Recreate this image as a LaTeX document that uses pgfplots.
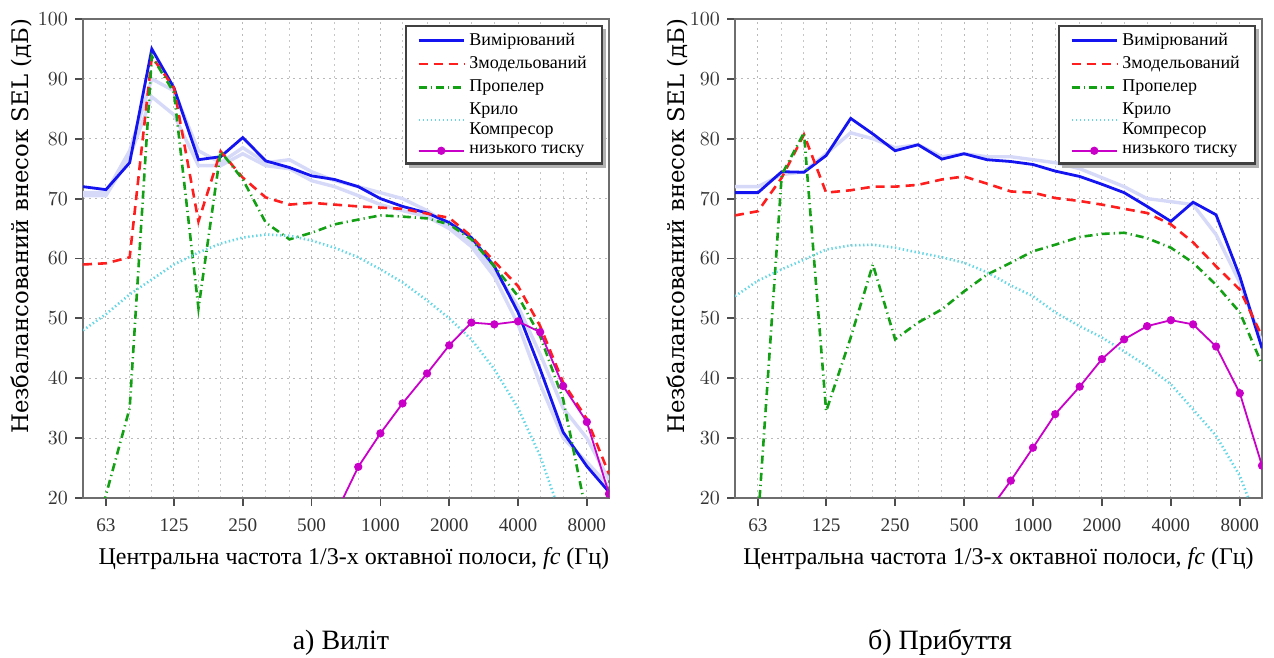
\documentclass[border=0pt]{standalone}
\usepackage{fontspec}
\setmainfont{Liberation Serif}
\newfontfamily\slabf{DejaVu Serif}
\usepackage{pgfplots}
\usepackage{pgfplotstable}
\pgfplotsset{compat=1.18}

\definecolor{cblue}{RGB}{20,20,240}
\definecolor{cred}{RGB}{255,30,30}
\definecolor{cgreen}{RGB}{20,160,20}
\definecolor{ccyan}{RGB}{100,215,230}
\definecolor{cmag}{RGB}{200,0,200}
\definecolor{cfaint}{RGB}{214,217,248}
\definecolor{axgray}{RGB}{110,110,110}

\pgfplotstableread{
f meas model prop wing comp fa fb
50 72 59 5 48 nan 70.5 71
63 71.5 59.2 20.5 50.7 nan 70.5 71
80 76 60.2 35 54 nan 77 78
100 95 93.7 93.8 56.5 nan 87 90
125 88.5 88.5 87.7 59 nan 84 88
160 76.5 66.2 51.7 61 nan 75.5 78
200 77 77.9 77.9 62.5 nan 75.5 76
250 80.2 73.5 73.2 63.5 nan 77.5 78.5
315 76.3 70.2 66 64 nan 75.5 76
400 75.2 69 63.2 63.8 nan 75 76.5
500 73.8 69.3 64.3 63 nan 73 74.5
630 73.2 69 65.7 61.8 17 72 73
800 72 68.7 66.5 60.2 25.2 70.5 72
1000 70 68.5 67.2 58.2 30.8 69 71
1250 68.7 68.3 67 56 35.8 68 70
1600 67.6 67.5 66.7 53 40.8 67 68
2000 66 66.8 65.7 50 45.5 65 65.5
2500 63.5 63.7 63.2 46.5 49.3 62 62.5
3150 58.7 59.5 58.7 41.5 49 57 58
4000 51 55.4 53.7 35 49.5 49 52
5000 41.5 48.7 47 27 47.7 39 44
6300 31 39.3 36.5 16 38.7 30 35
8000 25.3 33.2 17 5 32.7 26 30
10000 21 24 5 -5 20.7 22 23
}\depart

\pgfplotstableread{
f meas model prop wing comp fa
50 71 67.2 -20 53.7 nan 72
63 71 67.9 16 56.3 nan 72
80 74.5 73.5 74 58.2 nan 74
100 74.4 80.7 81 59.8 nan 74.5
125 77.2 71 34.5 61.5 nan 77.5
160 83.4 71.4 46.8 62.2 nan 81
200 80.8 72 59 62.3 nan 80
250 78 72 46.5 61.8 nan 78.5
315 79 72.3 49.3 61 nan 79
400 76.6 73.2 51.5 60.2 nan 77
500 77.5 73.7 54.5 59.3 nan 77.5
630 76.5 72.5 57.3 57.7 17.4 77
800 76.2 71.2 59.3 55.5 22.9 77
1000 75.7 71 61.2 53.7 28.4 76.5
1250 74.6 70.1 62.3 51 34 76
1600 73.7 69.6 63.6 48.7 38.6 75
2000 72.4 69 64.1 46.8 43.2 73.5
2500 71 68.3 64.3 44.5 46.5 72
3150 68.7 67.6 63.4 42 48.7 70
4000 66.2 65.7 61.8 39 49.7 69.5
5000 69.4 62.7 59.3 34.8 49 69
6300 67.3 58.7 55.6 30.4 45.3 64
8000 57 54.8 51 23.7 37.5 56
10000 45 47 42.3 14 25.4 46
}\arrive

\pgfplotsset{
 every axis/.append style={
  scale only axis, height=239.5pt,
  xmode=log, xmin=50, xmax=10000, ymin=20, ymax=100,
  xtick={63,125,250,500,1000,2000,4000,8000},
  xticklabels={63,125,250,500,1000,2000,4000,8000},
  minor xtick={50,80,100,160,200,315,400,630,800,1250,1600,2500,3150,5000,6300,10000},
  ytick={20,30,...,100},
  tick pos=left,
  grid=both,
  major grid style={gray!55, dash pattern=on 1pt off 2pt, line width=0.5pt},
  minor grid style={gray!45, dash pattern=on 1pt off 2pt, line width=0.5pt},
  axis line style={axgray, line width=1.3pt},
  tick align=outside,
  major tick length=4pt, minor tick length=0pt,
  tick style={axgray!70!black, line width=0.9pt},
  tick label style={font=\fontsize{9.6}{11}\selectfont, text=black!80},
  xticklabel style={yshift=-3pt},
  xlabel={Центральна частота 1/3-х октавної полоси, \textit{fc} (Гц)},
  ylabel={Незбалансований внесок SEL (дБ)},
  legend cell align=left,
  legend style={at={(axis description cs:1,1)}, anchor=north east, xshift=-3pt, yshift=-3pt,
    draw=black!75, line width=1.2pt, fill=white,
    font=\fontsize{9}{9.8}\selectfont, cells={anchor=west, align=left},
    inner xsep=5.5pt, inner ysep=1.5pt, row sep=0pt},
  legend image code/.code={\draw[mark repeat=2,mark phase=2] plot coordinates {(0cm,0cm) (0.4cm,0cm) (0.8cm,0cm)};},
  clip marker paths=true,
 }
}

\begin{document}
\begin{tikzpicture}
\useasboundingbox (0,0) rectangle (637pt,329pt);

\begin{axis}[at={(41.5pt,80pt)}, anchor=south west, width=263pt,
  legend style={name=legL},
  xlabel style={at={(axis description cs:0.515,-0.127)}, anchor=center, font=\fontsize{12}{14}\selectfont},
  ylabel style={at={(axis description cs:-0.118,0.567)}, anchor=center, font=\slabf\fontsize{11.4}{13}\selectfont}]
\addplot[cfaint, line width=1.7pt, forget plot] table[x=f,y=fa]{\depart};
\addplot[cfaint, line width=1.7pt, forget plot] table[x=f,y=fb]{\depart};
\addplot[cblue, line width=1.4pt] table[x=f,y=meas]{\depart};
\addlegendentry{Вимірюваний}
\addplot[cred, line width=1.3pt, dash pattern=on 4.5pt off 3pt] table[x=f,y=model]{\depart};
\addlegendentry{Змодельований}
\addplot[cgreen, line width=1.3pt, dash pattern=on 4pt off 2pt on 0.6pt off 2pt] table[x=f,y=prop]{\depart};
\addlegendentry{Пропелер}
\addplot[ccyan, line width=1.3pt, dash pattern=on 0.7pt off 1.3pt] table[x=f,y=wing]{\depart};
\addlegendentry{Крило\\Компресор}
\addplot[cmag, line width=0.9pt, mark=*, mark size=1.6pt] table[x=f,y=comp]{\depart};
\addlegendentry{низького тиску}
\end{axis}
\draw[gray!60, line width=1.4pt] ([xshift=2pt,yshift=-0.7pt]legL.south west) -- ([xshift=0.7pt,yshift=-0.7pt]legL.south east) -- ([xshift=0.7pt,yshift=-2pt]legL.north east);

\begin{axis}[at={(367.5pt,80pt)}, anchor=south west, width=263.5pt,
  legend style={name=legR},
  xlabel style={at={(axis description cs:0.5,-0.127)}, anchor=center, font=\fontsize{12}{14}\selectfont},
  ylabel style={at={(axis description cs:-0.11,0.567)}, anchor=center, font=\slabf\fontsize{11.4}{13}\selectfont}]
\addplot[cfaint, line width=1.7pt, forget plot] table[x=f,y=fa]{\arrive};
\addplot[cblue, line width=1.4pt] table[x=f,y=meas]{\arrive};
\addlegendentry{Вимірюваний}
\addplot[cred, line width=1.3pt, dash pattern=on 4.5pt off 3pt] table[x=f,y=model]{\arrive};
\addlegendentry{Змодельований}
\addplot[cgreen, line width=1.3pt, dash pattern=on 4pt off 2pt on 0.6pt off 2pt] table[x=f,y=prop]{\arrive};
\addlegendentry{Пропелер}
\addplot[ccyan, line width=1.3pt, dash pattern=on 0.7pt off 1.3pt] table[x=f,y=wing]{\arrive};
\addlegendentry{Крило\\Компресор}
\addplot[cmag, line width=0.9pt, mark=*, mark size=1.6pt] table[x=f,y=comp]{\arrive};
\addlegendentry{низького тиску}
\end{axis}
\draw[gray!60, line width=1.4pt] ([xshift=2pt,yshift=-0.7pt]legR.south west) -- ([xshift=0.7pt,yshift=-0.7pt]legR.south east) -- ([xshift=0.7pt,yshift=-2pt]legR.north east);

\node[anchor=base, font=\fontsize{14}{16}\selectfont] at (170.5pt,4pt) {а) Виліт};
\node[anchor=base, font=\fontsize{14}{16}\selectfont] at (470pt,4pt) {б) Прибуття};
\end{tikzpicture}
\end{document}
